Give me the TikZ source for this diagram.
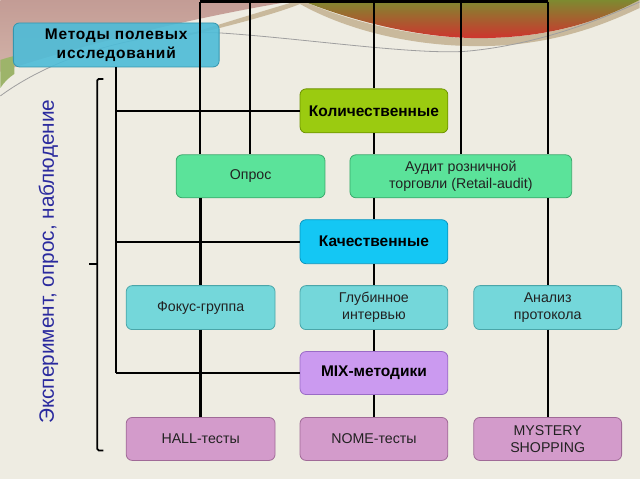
\documentclass[tikz,border=0pt]{standalone}
\usepackage{fontspec}
\setmainfont{Liberation Sans}
\definecolor{bg}{HTML}{EEECE2}
\definecolor{pinkA}{HTML}{C39C95}
\definecolor{pinkB}{HTML}{D2B2A8}
\definecolor{olivec}{HTML}{7E8A30}
\definecolor{redc}{HTML}{D2302E}
\definecolor{tanc}{HTML}{C9B99C}
\definecolor{greenc}{HTML}{9DB46A}
\definecolor{methc}{HTML}{4DBCD8}
\definecolor{methd}{HTML}{3596AE}
\definecolor{kolc}{HTML}{9BCB10}
\definecolor{kold}{HTML}{6E9400}
\definecolor{oprc}{HTML}{5BE39A}
\definecolor{oprd}{HTML}{3AA96B}
\definecolor{kachc}{HTML}{14C7F4}
\definecolor{kachd}{HTML}{0A95BE}
\definecolor{tealc}{HTML}{74D7DA}
\definecolor{teald}{HTML}{4AA6A9}
\definecolor{mixc}{HTML}{CB9AF0}
\definecolor{mixd}{HTML}{9A6BC6}
\definecolor{plumc}{HTML}{D39BCB}
\definecolor{plumd}{HTML}{A06A97}
\definecolor{txt}{HTML}{222222}
\definecolor{vtext}{HTML}{2A2A9E}
\begin{document}
\begin{tikzpicture}[x=1pt,y=-1pt,
  box/.style={draw, rounded corners=6pt, line width=0.8pt, minimum width=148pt, minimum height=43pt, inner sep=1pt, align=center, font=\fontsize{14.2}{17}\selectfont, text=txt},
  head/.style={box, font=\bfseries\fontsize{15.5}{19}\selectfont, text=black},
  conn/.style={line width=2.4pt, black}]
% background
\fill[bg] (0,0) rectangle (640,480);
\shade[top color=pinkA, bottom color=pinkB] (0,0) -- (300,0) .. controls (210,14) and (90,42) .. (0,72) -- cycle;
\fill[greenc] (0,60) .. controls (6,58) and (10,57) .. (14,56) -- (14,74) .. controls (8,78) and (4,82) .. (0,88) -- cycle;
\fill[tanc] (170,40) .. controls (230,26) and (275,14) .. (300,4) .. controls (350,32) and (420,48) .. (490,46) .. controls (560,44) and (610,22) .. (640,8) -- (640,0) .. controls (600,20) and (560,36) .. (490,38) .. controls (420,40) and (350,22) .. (300,0) .. controls (260,12) and (220,24) .. (170,40) -- cycle;
\shade[top color=olivec, bottom color=redc] (300,0) .. controls (360,24) and (430,40) .. (490,38) .. controls (560,36) and (605,18) .. (640,0) -- cycle;
\draw[gray!75, line width=0.8pt] (0,96) .. controls (60,52) and (150,30) .. (220,33) .. controls (300,38) and (420,56) .. (470,51) .. controls (540,44) and (600,20) .. (640,2);
% nodes
\node[head, fill=methc, draw=methd, fill opacity=0.9, text opacity=1, minimum width=206pt, minimum height=44pt, font=\bfseries\fontsize{15.5}{19}\selectfont\addfontfeatures{LetterSpace=5}] (meth) at (116,45) {Методы полевых\\исследований};
\node[head, fill=kolc, draw=kold, minimum height=44pt] (kol) at (374,111) {Количественные};
\node[box, fill=oprc, draw=oprd, minimum width=149pt] (opros) at (250.5,176.5) {Опрос};
\node[box, fill=oprc, draw=oprd, minimum width=222pt] (audit) at (461,176.5) {Аудит розничной\\торговли (Retail-audit)};
\node[head, fill=kachc, draw=kachd, minimum height=44pt] (kach) at (374,242) {Качественные};
\node[box, fill=tealc, draw=teald, minimum width=149pt, minimum height=44pt] (fokus) at (200.5,308) {Фокус-группа};
\node[box, fill=tealc, draw=teald, minimum height=44pt] (glub) at (374,308) {Глубинное\\интервью};
\node[box, fill=tealc, draw=teald, minimum height=44pt] (analiz) at (548,308) {Анализ\\протокола};
\node[head, fill=mixc, draw=mixd] (mix) at (374,373.5) {MIX-методики};
\node[box, fill=plumc, draw=plumd, minimum width=149pt] (hall) at (200.5,439.5) {HALL-тесты};
\node[box, fill=plumc, draw=plumd] (nome) at (374,439.5) {NOME-тесты};
\node[box, fill=plumc, draw=plumd] (myst) at (548,439.5) {MYSTERY\\SHOPPING};
% coordinates
\coordinate (t200) at (200,1.5);
\coordinate (t250) at (250,1.5);
\coordinate (t373) at (374,1.5);
\coordinate (t461) at (461,1.5);
\coordinate (t548) at (548,1.5);
\coordinate (l116) at (116,67);
\coordinate (h1) at (116,111);
\coordinate (h2) at (116,242);
\coordinate (h3) at (116,373.5);
% connectors
\draw[conn] (t200) -- (t548);
\draw[conn] (t200) -- (t200 |- opros.north);
\draw[conn] (t250) -- (t250 |- opros.north);
\draw[conn] (t373) -- (kol.north);
\draw[conn] (t461) -- (audit.north);
\draw[conn] (t548) -- (t548 |- audit.north);
\draw[conn] (kol.south) -- (kol.south |- audit.north);
\draw[conn] (kach.north |- audit.south) -- (kach.north);
\draw[conn] (analiz.north |- audit.south) -- (analiz.north);
\draw[conn] (kach.south) -- (glub.north);
\draw[conn] (glub.south) -- (mix.north);
\draw[conn] (mix.south) -- (nome.north);
\draw[conn] (analiz.south) -- (myst.north);
\draw[conn] (fokus.north |- opros.south) -- (fokus.north);
\draw[conn] (fokus.south) -- (hall.north);
\draw[conn] (l116) -- (h3);
\draw[conn] (h1) -- (kol.west);
\draw[conn] (h2) -- (kach.west);
\draw[conn] (h3) -- (mix.west);
% bracket
\coordinate (b1) at (103,79);
\coordinate (b2) at (97,79);
\coordinate (b3) at (97,451);
\coordinate (b4) at (103,451);
\coordinate (bm) at (97,264);
\coordinate (bt) at (89,264);
\draw[line width=1.8pt, rounded corners=1.5pt] (b1) -- (b2) -- (b3) -- (b4);
\draw[line width=1.8pt] (bm) -- (bt);
\node[rotate=90, text=vtext, font=\fontsize{20.8}{25}\selectfont] (vt) at (48,262) {Эксперимент, опрос, наблюдение};
\end{tikzpicture}
\end{document}
